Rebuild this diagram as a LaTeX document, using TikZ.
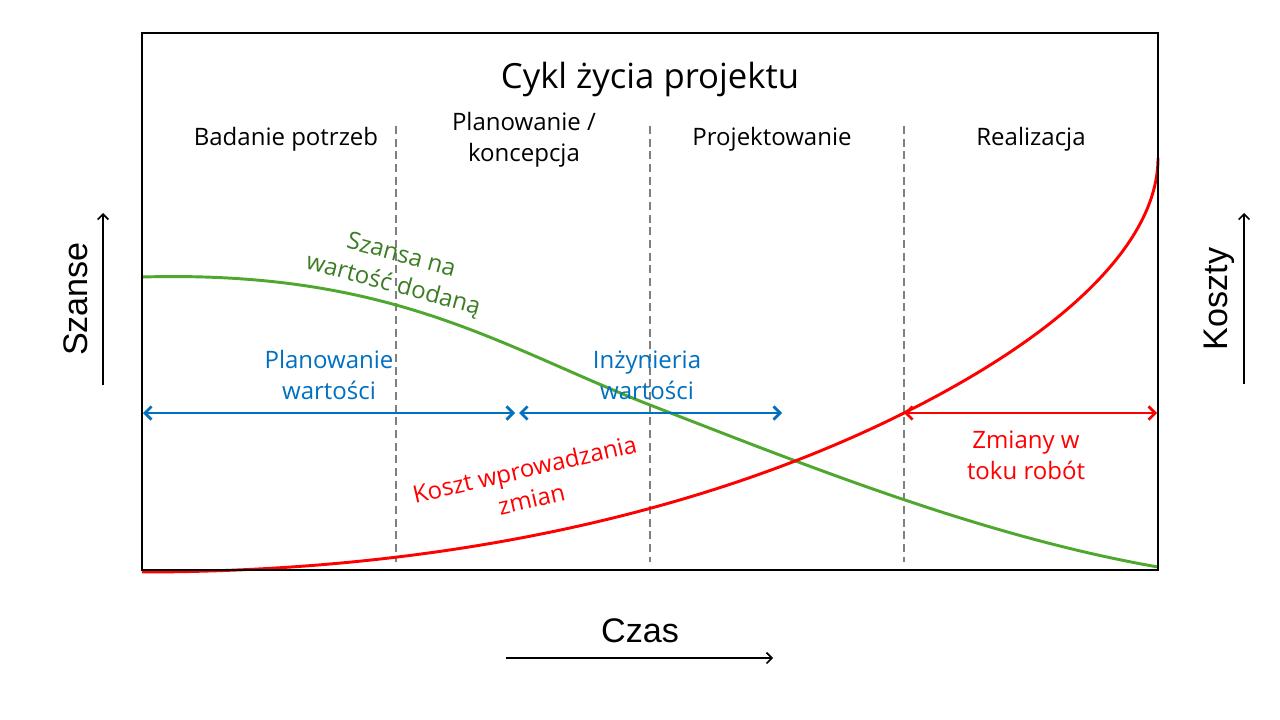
\documentclass[tikz,border=0pt]{standalone}
\usepackage{fontspec}
\setmainfont{Open Sans}
\newfontfamily\osiefont{Liberation Sans}
\usetikzlibrary{arrows.meta}
\definecolor{zielony}{RGB}{78,167,46}
\definecolor{ciemnozielony}{RGB}{59,125,35}
\definecolor{niebieski}{RGB}{0,112,192}
\definecolor{czerwony}{RGB}{255,0,0}
\definecolor{szary}{RGB}{127,127,127}

\begin{document}
\begin{tikzpicture}[x=0.75pt,y=-0.75pt]
    \tikzstyle{faza}=[font=\fontsize{18}{23}\selectfont, align=center, inner sep=0pt]
    \tikzstyle{opis}=[font=\fontsize{18}{23}\selectfont, align=center, inner sep=0pt]
    \tikzstyle{os}=[font=\osiefont\fontsize{25.6}{30}\selectfont, inner sep=0pt]
    \tikzstyle{podzial}=[szary, line width=1.4pt, dash pattern=on 6pt off 3.5pt]
    \tikzstyle{zakres}=[line width=2.2pt, {Straight Barb[length=5pt,width=10pt,line width=2pt]}-{Straight Barb[length=5pt,width=10pt,line width=2pt]}]
    \tikzstyle{strzalka}=[line width=1.2pt, -{Straight Barb[length=4pt,width=8pt]}]
    \tikzstyle{krzywa}=[line width=2.2pt]
    \useasboundingbox (0,0) rectangle (1280,720);
    \fill[white] (0,0) rectangle (1280,720);

    \coordinate (lg) at (142,33);
    \coordinate (pd) at (1158,570);
    \coordinate (g1) at (396,126);
    \coordinate (d1) at (396,562);
    \coordinate (g2) at (650,126);
    \coordinate (d2) at (650,562);
    \coordinate (g3) at (904,126);
    \coordinate (d3) at (904,562);

    \draw[podzial] (g1) -- (d1);
    \draw[podzial] (g2) -- (d2);
    \draw[podzial] (g3) -- (d3);

    \node[font=\fontsize{26}{30}\selectfont] (tytul) at (650,79) {Cykl życia projektu};
    \node[faza] (badanie) at (286,139) {Badanie potrzeb};
    \node[faza] (planowanie) at (524,140) {Planowanie /\\koncepcja};
    \node[faza] (projektowanie) at (772,139) {Projektowanie};
    \node[faza] (realizacja) at (1031,139) {Realizacja};

    \coordinate (zp) at (142,277);
    \coordinate (zs) at (650,405);
    \coordinate (zk) at (1158,567);
    \draw[krzywa, zielony] (zp) .. controls (392,270) and (500,346.5) .. (zs)
        .. controls (800,463) and (980,536) .. (zk);
    \coordinate (cp) at (142,572);
    \coordinate (cs) at (904,413);
    \coordinate (ck) at (1158,158);
    \draw[krzywa, czerwony] (cp) .. controls (442,572) and (704,513) .. (cs)
        .. controls (1074,328) and (1158,238) .. (ck);

    \draw[line width=1.5pt] (lg) rectangle (pd);
    \draw[line width=2.2pt] (lg |- pd) -- (pd);

    \coordinate (nb1) at (143,413);
    \coordinate (nb2) at (515,413);
    \coordinate (nb3) at (519,413);
    \coordinate (nb4) at (782,413);
    \coordinate (cz2) at (1157,413);
    \draw[zakres, niebieski] (nb1) -- (nb2);
    \draw[zakres, niebieski] (nb3) -- (nb4);
    \draw[zakres, czerwony] (cs) -- (cz2);

    \node[opis, niebieski] (plwart) at (329,375) {Planowanie\\wartości};
    \node[opis, niebieski] (inzwart) at (647,375) {Inżynieria\\wartości};
    \node[opis, czerwony] (zmiany) at (1026,455) {Zmiany w\\toku robót};
    \node[opis, czerwony, rotate=13] (koszt) at (528,484) {Koszt wprowadzania\\zmian};
    \node[opis, ciemnozielony, rotate=-15] (szansa) at (397,271) {Szansa na\\wartość dodaną};

    \coordinate (sz1) at (103,385);
    \coordinate (sz2) at (103,213);
    \coordinate (ko1) at (1244,384);
    \coordinate (ko2) at (1244,213);
    \coordinate (cs1) at (506,658);
    \coordinate (cs2) at (773,658);
    \draw[strzalka] (sz1) -- (sz2);
    \draw[strzalka] (ko1) -- (ko2);
    \draw[strzalka] (cs1) -- (cs2);
    \node[os, rotate=90] (szanse) at (76,299) {Szanse};
    \node[os, rotate=90] (koszty) at (1219,299) {Koszty};
    \node[os] (czas) at (640,631) {Czas};
\end{tikzpicture}
\end{document}
